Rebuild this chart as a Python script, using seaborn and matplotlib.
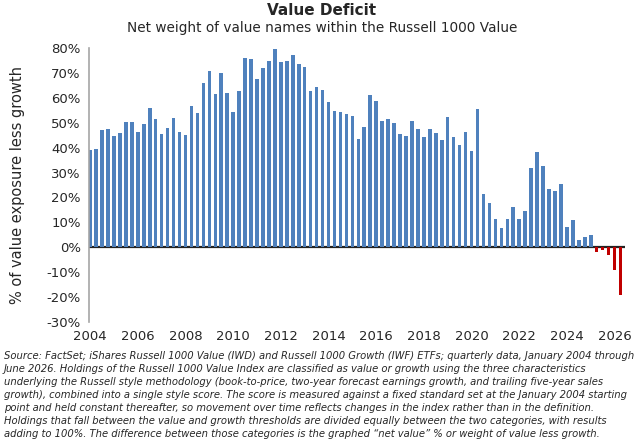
import matplotlib.pyplot as plt
import seaborn as sns
import pandas as pd

# quarterly data, 2004Q1 .. 2026Q2
quarters = [f"{y}Q{q}" for y in range(2004, 2027) for q in range(1, 5)][:90]
net_value = [
    39.0, 39.5, 46.9, 47.5, 44.5, 46.0, 50.3, 50.3, 46.1, 49.3,
    55.9, 51.6, 45.6, 48.0, 51.8, 46.3, 45.0, 56.6, 54.0, 66.0,
    70.7, 61.6, 69.9, 61.9, 54.3, 62.7, 75.8, 75.4, 67.5, 72.0,
    74.7, 79.6, 74.4, 74.8, 77.0, 73.6, 72.2, 62.6, 64.5, 63.1,
    58.5, 54.8, 54.3, 53.5, 52.7, 43.4, 48.2, 61.0, 58.8, 50.5,
    51.7, 49.7, 45.4, 44.8, 50.5, 47.6, 44.4, 47.5, 46.0, 43.0,
    52.2, 44.1, 41.2, 46.3, 38.8, 55.6, 21.5, 17.8, 11.4, 7.6,
    11.4, 16.3, 11.3, 14.6, 31.8, 38.2, 32.7, 23.5, 22.4, 25.4,
    8.0, 11.0, 3.0, 4.0, 5.0, -2.0, -1.0, -3.0, -9.0, -19.0,
]
year_labels = [str(y) for y in range(2004, 2027, 2)]

df = pd.DataFrame({"quarter": quarters, "value": net_value})
df["sign"] = ["neg" if v < 0 else "pos" for v in df["value"]]

sns.set_style("white")
plt.rcParams["font.family"] = ["DejaVu Sans"]

fig = plt.figure(figsize=(6.4, 4.47), dpi=100)
ax = fig.add_axes([0.139, 0.2796, 0.838, 0.613])

sns.barplot(
    data=df, x="quarter", y="value", hue="sign",
    palette={"pos": "#4F81BD", "neg": "#C00000"},
    dodge=False, width=0.6, legend=False, ax=ax,
    linewidth=0, edgecolor="none", saturation=1,
)

ax.axhline(0, color="#222222", linewidth=1.6, zorder=0)

ax.set_xlim(-0.2, 89.8)
ax.set_ylim(-30, 80)
ax.set_yticks(range(-30, 81, 10))
ax.set_yticklabels([f"{t}%" for t in range(-30, 81, 10)], fontsize=9.5)
ax.set_xticks(range(0, 90, 8))
ax.set_xticklabels(year_labels, fontsize=9.5)
ax.tick_params(axis="both", length=0, pad=6)
ax.set_xlabel("")
ax.set_ylabel("")

for side in ["top", "right", "bottom"]:
    ax.spines[side].set_visible(False)
ax.spines["left"].set_color("#A6A6A6")
ax.spines["left"].set_linewidth(1.2)

fig.text(0.028, 0.586, "% of value exposure less growth", rotation=90,
         ha="center", va="center", fontsize=10.5)

fig.text(0.503, 0.977, "Value Deficit", ha="center", va="center",
         fontsize=11, fontweight="bold")
fig.text(0.503, 0.937, "Net weight of value names within the Russell 1000 Value",
         ha="center", va="center", fontsize=9.8)

footnote = (
    "Source: FactSet; iShares Russell 1000 Value (IWD) and Russell 1000 Growth (IWF) ETFs; quarterly data, January 2004 through\n"
    "June 2026. Holdings of the Russell 1000 Value Index are classified as value or growth using the three characteristics\n"
    "underlying the Russell style methodology (book-to-price, two-year forecast earnings growth, and trailing five-year sales\n"
    "growth), combined into a single style score. The score is measured against a fixed standard set at the January 2004 starting\n"
    "point and held constant thereafter, so movement over time reflects changes in the index rather than in the definition.\n"
    "Holdings that fall between the value and growth thresholds are divided equally between the two categories, with results\n"
    "adding to 100%. The difference between those categories is the graphed \u201cnet value\u201d % or weight of value less growth."
)
fig.text(0.006, 1 - 351 / 447, footnote, ha="left", va="top",
         fontsize=7.2, style="italic", linespacing=1.38)

fig.savefig("out.png", dpi=100)
